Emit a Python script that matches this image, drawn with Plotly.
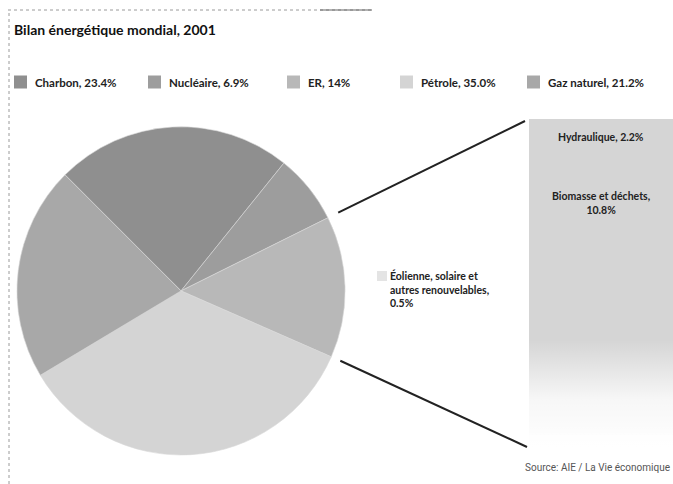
import math
import plotly.graph_objects as go

# ---- data -------------------------------------------------------------
title_text = "Bilan énergétique mondial, 2001"
source_text = "Source: AIE / La Vie économique"

energy_sources = ["Charbon", "Nucléaire", "ER", "Pétrole", "Gaz naturel"]
energy_share_labels = ["23.4", "6.9", "14", "35.0", "21.2"]

# renewable ("ER") breakdown, stacked bottom to top
renewable_sources = ["Éolienne, solaire et<br>autres renouvelables,",
                     "Biomasse et déchets,",
                     "Hydraulique,"]
renewable_share_labels = ["0.5", "10.8", "2.2"]

# ---- styles -----------------------------------------------------------
energy_colors = ["#8f8f8f", "#9d9d9d", "#b8b8b8", "#d4d4d4", "#a8a8a8"]
renewable_colors = ["#ececec", "#d5d5d5", "#d5d5d5"]
legend_x_px = [14, 148, 287, 400, 527]   # left edge of each key swatch
legend_y_px = 82
BOLD_FONT = "Lato"
W, H = 673, 484

energy_values = [float(v) for v in energy_share_labels]
renewable_values = [float(v) for v in renewable_share_labels]
energy_total = sum(energy_values)
renewable_total = sum(renewable_values)

pie_dom_x = [0.025, 0.513]
pie_dom_y = [0.060, 0.738]
bar_dom_x = [529 / W, 1.0]
bar_dom_y = [37 / H, 365 / H]
pie_rotation = -45

fig = go.Figure()

energy_labels = [f"{n}, {v}%" for n, v in zip(energy_sources, energy_share_labels)]
fig.add_trace(go.Pie(
    labels=energy_labels,
    values=energy_values,
    sort=False,
    direction="clockwise",
    rotation=pie_rotation,
    textinfo="none",
    hoverinfo="label",
    marker=dict(colors=energy_colors, line=dict(color="#d8d8d8", width=0.6)),
    domain=dict(x=pie_dom_x, y=pie_dom_y),
    showlegend=False,
))

# stacked bar of the renewable share
for name, val, col in zip(renewable_sources, renewable_values, renewable_colors):
    fig.add_trace(go.Bar(
        x=[0], y=[val], width=1.0,
        marker=dict(color=col, line=dict(width=0)),
        xaxis="x", yaxis="y", showlegend=False,
        hoverinfo="skip",
    ))

# fade of the bar toward its bottom
fade_top = 4.4
fig.add_trace(go.Scatter(
    x=[-0.5, 0.5, 0.5, -0.5, -0.5],
    y=[0, 0, fade_top, fade_top, 0],
    mode="lines", line=dict(width=0),
    fill="toself",
    fillgradient=dict(type="vertical", start=0, stop=fade_top,
                      colorscale=[[0, "rgba(255,255,255,1)"],
                                  [0.45, "rgba(255,255,255,0.8)"],
                                  [1, "rgba(255,255,255,0)"]]),
    xaxis="x", yaxis="y", showlegend=False, hoverinfo="skip",
))

annotations = []
shapes = []

# ---- key row ----------------------------------------------------------
for lab, col, xpx in zip(energy_labels, energy_colors, legend_x_px):
    shapes.append(dict(type="rect", xref="paper", yref="paper",
                       x0=xpx / W, x1=(xpx + 13) / W,
                       y0=1 - (legend_y_px + 6.5) / H, y1=1 - (legend_y_px - 6.5) / H,
                       fillcolor=col, line=dict(width=0)))
    annotations.append(dict(
        x=(xpx + 19) / W, y=1 - legend_y_px / H, xref="paper", yref="paper",
        xanchor="left", yanchor="middle", text=f"<b>{lab}</b>", showarrow=False,
        font=dict(family=BOLD_FONT, size=11.5, color="#222222")))

# ---- labels in the bar ------------------------------------------------
cum_top = list(renewable_values)
for i in range(1, len(cum_top)):
    cum_top[i] += cum_top[i - 1]

label_font = dict(family=BOLD_FONT, size=10.5, color="#222222")
# Hydraulique (top segment)
annotations.append(dict(
    x=0, y=cum_top[2], xref="x", yref="y", yanchor="top", yshift=-10,
    text=f"<b>{renewable_sources[2]} {renewable_share_labels[2]}%</b>",
    showarrow=False, font=label_font))
# Biomasse et déchets
annotations.append(dict(
    x=0, y=cum_top[1], xref="x", yref="y", yanchor="top", yshift=-16,
    text=f"<b>{renewable_sources[1]}<br>{renewable_share_labels[1]}%</b>",
    showarrow=False, font=label_font, align="center"))
# Éolienne etc. – label outside the bar, with swatch
annotations.append(dict(
    x=388 / W, y=1 - 267 / H, xref="paper", yref="paper",
    xanchor="left", yanchor="top",
    text=f"<b>{renewable_sources[0]}<br>{renewable_share_labels[0]}%</b>",
    showarrow=False, font=label_font, align="left"))

annotations.append(dict(
    x=12 / W, y=1 - 19 / H, xref="paper", yref="paper",
    xanchor="left", yanchor="top",
    text=f"<b>{title_text}</b>", showarrow=False,
    font=dict(family=BOLD_FONT, size=14, color="#111111")))

annotations.append(dict(
    x=672 / W, y=1 - 460 / H, xref="paper", yref="paper",
    xanchor="right", yanchor="top",
    text=source_text, showarrow=False,
    font=dict(family="Liberation Sans Narrow, Roboto", size=10, color="#555555")))

# ---- connector lines from the ER slice to the bar ---------------------
cx = (pie_dom_x[0] + pie_dom_x[1]) / 2 * W
cy = (pie_dom_y[0] + pie_dom_y[1]) / 2 * H
R = min((pie_dom_x[1] - pie_dom_x[0]) * W, (pie_dom_y[1] - pie_dom_y[0]) * H) / 2
er_idx = energy_sources.index("ER")
f_start = sum(energy_values[:er_idx]) / energy_total
f_end = sum(energy_values[:er_idx + 1]) / energy_total


def pie_point(frac, rscale):
    a = math.radians(pie_rotation + frac * 360)
    return ((cx + R * rscale * math.sin(a)) / W,
            (cy + R * rscale * math.cos(a)) / H)


p0 = pie_point(f_start, 1.07)
p1 = pie_point(f_end, 1.06)
shapes.append(dict(type="line", xref="paper", yref="paper",
                   x0=p0[0], y0=p0[1], x1=bar_dom_x[0] - 4 / W, y1=bar_dom_y[1] - 2 / H,
                   line=dict(color="#222222", width=2)))
shapes.append(dict(type="line", xref="paper", yref="paper",
                   x0=p1[0], y0=p1[1], x1=bar_dom_x[0] - 2 / W, y1=bar_dom_y[0],
                   line=dict(color="#222222", width=2)))

# swatch next to the small renewables label
shapes.append(dict(type="rect", xref="paper", yref="paper",
                   x0=377 / W, x1=387 / W, y0=1 - 281 / H, y1=1 - 271 / H,
                   fillcolor="#e4e4e4", line=dict(width=0)))

# frame: dotted top and left rules
shapes.append(dict(type="line", xref="paper", yref="paper",
                   x0=8 / W, x1=372 / W, y0=1 - 10 / H, y1=1 - 10 / H,
                   line=dict(color="#9a9a9a", width=1, dash="dot")))
shapes.append(dict(type="line", xref="paper", yref="paper",
                   x0=320 / W, x1=372 / W, y0=1 - 10 / H, y1=1 - 10 / H,
                   line=dict(color="#666666", width=1.2)))
shapes.append(dict(type="line", xref="paper", yref="paper",
                   x0=9 / W, x1=9 / W, y0=0, y1=1 - 10 / H,
                   line=dict(color="#9a9a9a", width=1, dash="dot")))

fig.update_layout(
    width=W, height=H,
    margin=dict(l=0, r=0, t=0, b=0),
    paper_bgcolor="white", plot_bgcolor="white",
    barmode="stack", bargap=0, showlegend=False,
    xaxis=dict(domain=bar_dom_x, range=[-0.5, 0.5], visible=False, fixedrange=True),
    yaxis=dict(domain=bar_dom_y, range=[0, renewable_total], visible=False, fixedrange=True),
    annotations=annotations,
    shapes=shapes,
)

fig.write_html("out.html")
